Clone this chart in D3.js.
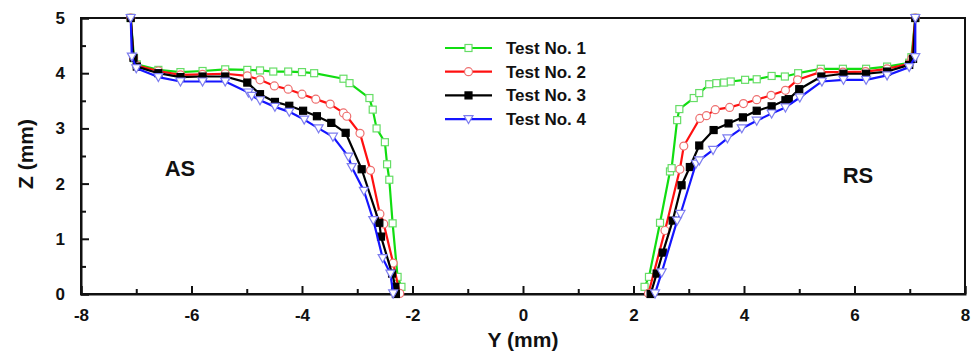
<!DOCTYPE html>
<html>
<head>
<meta charset="utf-8">
<script src="https://cdn.jsdelivr.net/npm/d3@7"></script>
<style>
  html, body { margin: 0; padding: 0; background: #fff; }
  svg { display: block; font-family: Arial, "Liberation Sans", sans-serif; }
</style>
</head>
<body>
<svg id="chart" width="977" height="356"></svg>
<script>
// Weld-zone boundary profiles: [Y (mm), Z (mm)] on the advancing (left) and retreating (right) sides
const seriesNames = ["Test No. 1", "Test No. 2", "Test No. 3", "Test No. 4"];

const test1Left = [[-7.10,5.00],[-7.04,4.27],[-6.99,4.16],[-6.60,4.06],[-6.20,4.02],[-5.80,4.04],[-5.39,4.07],[-4.99,4.06],[-4.76,4.05],[-4.52,4.03],[-4.25,4.03],[-4.00,4.02],[-3.78,4.00],[-3.25,3.90],[-3.14,3.82],[-2.78,3.55],[-2.72,3.34],[-2.65,3.00],[-2.50,2.75],[-2.46,2.35],[-2.42,2.07],[-2.36,1.28],[-2.27,0.31],[-2.20,0.13]];
const test1Right = [[2.20,0.13],[2.28,0.31],[2.48,1.29],[2.66,2.22],[2.69,2.28],[2.79,3.15],[2.83,3.35],[3.09,3.55],[3.19,3.64],[3.37,3.80],[3.50,3.82],[3.64,3.83],[3.76,3.85],[4.02,3.88],[4.23,3.89],[4.50,3.95],[4.74,3.94],[4.98,4.00],[5.39,4.08],[5.79,4.08],[6.21,4.08],[6.59,4.12],[6.99,4.19],[7.03,4.29],[7.10,5.00]];

const test2Left = [[-7.10,5.00],[-7.05,4.28],[-6.99,4.14],[-6.60,4.04],[-6.20,3.97],[-5.80,3.98],[-5.39,3.99],[-4.99,3.95],[-4.76,3.88],[-4.50,3.77],[-4.25,3.71],[-4.00,3.62],[-3.75,3.53],[-3.49,3.44],[-3.25,3.28],[-3.19,3.22],[-2.95,2.91],[-2.76,2.24],[-2.59,1.45],[-2.52,1.27],[-2.35,0.56],[-2.23,0.01]];
const test2Right = [[2.27,0.01],[2.57,1.15],[2.84,2.26],[2.91,2.68],[3.20,3.18],[3.32,3.23],[3.48,3.34],[3.74,3.38],[3.99,3.45],[4.23,3.52],[4.49,3.60],[4.75,3.69],[4.97,3.88],[5.38,4.02],[5.79,4.02],[6.20,4.03],[6.59,4.08],[6.99,4.17],[7.04,4.27],[7.10,5.00]];

const test3Left = [[-7.10,5.00],[-7.05,4.28],[-6.99,4.12],[-6.60,4.00],[-6.20,3.93],[-5.80,3.94],[-5.39,3.94],[-4.99,3.83],[-4.76,3.62],[-4.49,3.48],[-4.23,3.41],[-3.98,3.32],[-3.73,3.22],[-3.47,3.10],[-3.21,2.92],[-2.92,2.26],[-2.60,1.29],[-2.57,1.04],[-2.37,0.37],[-2.31,0.13],[-2.30,0.00]];
const test3Right = [[2.31,0.00],[2.42,0.37],[2.53,0.75],[2.71,1.33],[2.87,1.97],[3.02,2.30],[3.19,2.69],[3.45,2.97],[3.72,3.09],[3.98,3.20],[4.23,3.32],[4.50,3.40],[4.75,3.51],[4.81,3.53],[5.00,3.71],[5.40,3.94],[5.80,3.99],[6.21,3.99],[6.59,4.03],[6.99,4.15],[7.06,4.26],[7.10,5.00]];

const test4Left = [[-7.10,5.00],[-7.08,4.30],[-7.00,4.09],[-6.60,3.93],[-6.20,3.85],[-5.80,3.85],[-5.39,3.85],[-4.97,3.65],[-4.91,3.59],[-4.76,3.51],[-4.49,3.39],[-4.23,3.30],[-3.96,3.16],[-3.70,3.00],[-3.44,2.85],[-3.16,2.49],[-3.10,2.30],[-2.88,1.87],[-2.71,1.34],[-2.54,0.65],[-2.40,0.37],[-2.35,0.01]];
const test4Right = [[2.39,0.01],[2.51,0.39],[2.79,1.33],[2.85,1.45],[3.13,2.36],[3.19,2.42],[3.44,2.61],[3.70,2.82],[3.96,3.00],[4.23,3.14],[4.50,3.27],[4.75,3.38],[5.01,3.56],[5.41,3.85],[5.80,3.88],[6.21,3.88],[6.59,3.96],[6.99,4.11],[7.10,4.29],[7.10,5.00]];

const xTicks = [-8, -6, -4, -2, 0, 2, 4, 6, 8];
const xMinorTicks = [-7, -5, -3, -1, 1, 3, 5, 7];
const yTicks = [0, 1, 2, 3, 4, 5];
const yMinorTicks = [0.5, 1.5, 2.5, 3.5, 4.5];

const sideLabels = [{text: "AS", y: -2.5}, {text: "RS", y: 2.5}];

// Visual style per test
const styles = [
  {line: "#11dd11", stroke: "#66dd66", fill: "#fff", shape: "square"},
  {line: "#ff1010", stroke: "#ee6f6f", fill: "#fff", shape: "circle"},
  {line: "#000000", stroke: "#000000", fill: "#000", shape: "square"},
  {line: "#1515ff", stroke: "#7d7df0", fill: "#fff", shape: "triangleDown"}
];
const seriesData = [
  [test1Left, test1Right],
  [test2Left, test2Right],
  [test3Left, test3Right],
  [test4Left, test4Right]
];

const svg = d3.select("#chart");
const plot = {left: 81, right: 965, top: 18, bottom: 294};

const x = d3.scaleLinear().domain([-8, 8]).range([plot.left, plot.right]);
const y = d3.scaleLinear().domain([0, 5]).range([plot.bottom, plot.top]);

// Frame
svg.append("rect")
  .attr("x", plot.left).attr("y", plot.top)
  .attr("width", plot.right - plot.left).attr("height", plot.bottom - plot.top)
  .attr("fill", "none").attr("stroke", "#111").attr("stroke-width", 2);

const tickFont = "bold 17px Arial, 'Liberation Sans', sans-serif";
const plainNumber = d => String(d);

// Bottom axis (ticks point into the plot)
const gx = svg.append("g").attr("transform", `translate(0,${plot.bottom})`)
  .call(d3.axisBottom(x).tickValues(xTicks).tickSize(-8).tickPadding(15).tickFormat(plainNumber));
svg.append("g").attr("transform", `translate(0,${plot.bottom})`)
  .call(d3.axisBottom(x).tickValues(xMinorTicks).tickSize(-5).tickFormat(""))
  .call(g => g.select(".domain").remove());

// Left axis
const gy = svg.append("g").attr("transform", `translate(${plot.left},0)`)
  .call(d3.axisLeft(y).tickValues(yTicks).tickSize(-8).tickPadding(16).tickFormat(plainNumber));
svg.append("g").attr("transform", `translate(${plot.left},0)`)
  .call(d3.axisLeft(y).tickValues(yMinorTicks).tickSize(-5).tickFormat(""))
  .call(g => g.select(".domain").remove());

svg.selectAll(".tick line").attr("stroke", "#111").attr("stroke-width", 2);
svg.selectAll(".domain").attr("stroke", "#111").attr("stroke-width", 2);
svg.selectAll(".tick text").attr("fill", "#111")
  .style("font", tickFont);
gx.selectAll(".tick text").attr("dy", "0.71em");

// Axis titles
svg.append("text")
  .attr("x", x(0)).attr("y", 347)
  .attr("text-anchor", "middle")
  .style("font", "bold 21px Arial, 'Liberation Sans', sans-serif")
  .attr("fill", "#111")
  .text("Y (mm)");
svg.append("text")
  .attr("transform", `translate(33,${y(2.5) - 2}) rotate(-90)`)
  .attr("text-anchor", "middle")
  .style("font", "bold 21px Arial, 'Liberation Sans', sans-serif")
  .attr("fill", "#111")
  .text("Z (mm)");

// Side annotations
svg.selectAll(".side").data(sideLabels).enter().append("text")
  .attr("class", "side")
  .attr("x", (d, i) => i === 0 ? 180 : 858)
  .attr("y", (d, i) => i === 0 ? 176 : 183)
  .attr("text-anchor", "middle")
  .style("font", "bold 22px Arial, 'Liberation Sans', sans-serif")
  .attr("fill", "#111")
  .text(d => d.text);

const line = d3.line().x(d => x(d[0])).y(d => y(d[1]));

function drawMarker(g, shape, cx, cy, st) {
  if (shape === "square") {
    g.append("rect").attr("x", cx - 3.5).attr("y", cy - 3.5).attr("width", 7).attr("height", 7)
      .attr("fill", st.fill).attr("stroke", st.stroke).attr("stroke-width", 1.2);
  } else if (shape === "circle") {
    g.append("circle").attr("cx", cx).attr("cy", cy).attr("r", 4)
      .attr("fill", st.fill).attr("stroke", st.stroke).attr("stroke-width", 1.2);
  } else {
    g.append("path")
      .attr("d", `M${cx - 4.5},${cy - 3.5} L${cx + 4.5},${cy - 3.5} L${cx},${cy + 4.5} Z`)
      .attr("fill", st.fill).attr("stroke", st.stroke).attr("stroke-width", 1.2);
  }
}

// Profiles
seriesData.forEach((segments, i) => {
  const st = styles[i];
  const g = svg.append("g").attr("class", "series");
  segments.forEach(seg => {
    g.append("path").attr("d", line(seg)).attr("fill", "none")
      .attr("stroke", st.line).attr("stroke-width", 2.2).attr("stroke-linejoin", "round");
  });
  segments.forEach(seg => {
    seg.forEach(p => drawMarker(g, st.shape, x(p[0]), y(p[1]), st));
  });
});

// Legend
const legend = svg.append("g").attr("class", "legend");
seriesNames.forEach((name, i) => {
  const st = styles[i];
  const ly = 48 + i * 23.7;
  legend.append("line").attr("x1", 445).attr("x2", 492).attr("y1", ly).attr("y2", ly)
    .attr("stroke", st.line).attr("stroke-width", 2.2);
  drawMarker(legend, st.shape, 468.5, ly, st);
  legend.append("text").attr("x", 506).attr("y", ly).attr("dy", "0.35em")
    .style("font", "bold 17px Arial, 'Liberation Sans', sans-serif")
    .attr("fill", "#111")
    .text(name);
});
</script>
</body>
</html>
